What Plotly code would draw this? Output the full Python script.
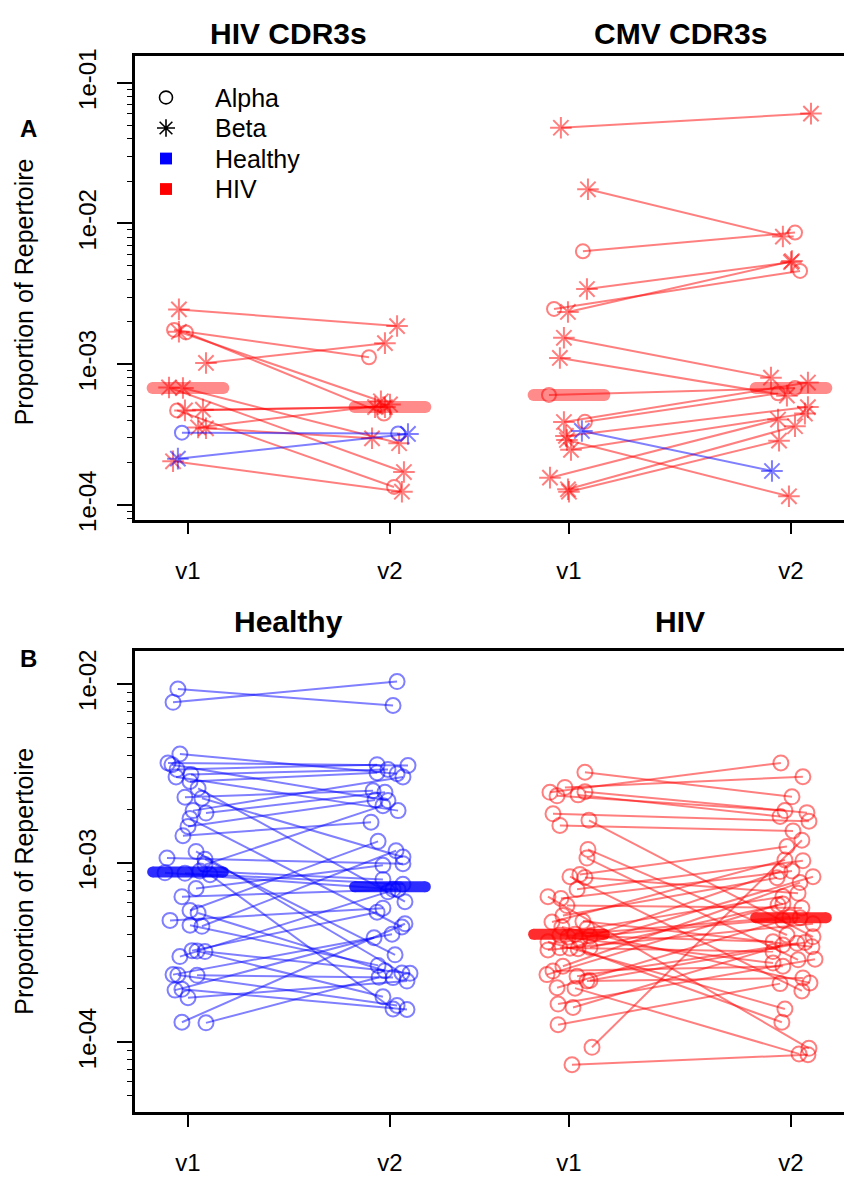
import numpy as np
import plotly.graph_objects as go

W, H = 844, 1180

# ---------------------------------------------------------------------------
# Shared x scale: time points of the two groups in each panel
# ---------------------------------------------------------------------------
XPOS = [1.0, 2.0, 2.886, 3.985]
XLABELS = ["v1", "v2", "v1", "v2"]

# ---------------------------------------------------------------------------
# Panel A - proportion of repertoire of HIV / CMV specific CDR3s
# chain: "a" = Alpha (circle), "b" = Beta (asterisk)
# ---------------------------------------------------------------------------
hiv_cdr3_hiv_v1 = [2.45e-3, 1.02e-3, 1.70e-3, 6.83e-4, 6.76e-4, 4.69e-4, 4.75e-4,
                   3.55e-4, 3.50e-4, 2.04e-4, 1.75e-3, 1.68e-3, 4.69e-4]
hiv_cdr3_hiv_v2 = [1.865e-3, 1.41e-3, 5.45e-4, 1.71e-4, 2.74e-4, 4.95e-4, 4.95e-4,
                   5.17e-4, 2.97e-4, 1.24e-4, 1.12e-3, 4.45e-4, 1.34e-4]
hiv_cdr3_hiv_chain = "bbbbbbbbbbaaa"
hiv_cdr3_hiv_jit1 = [-0.045, 0.089, -0.045, -0.094, -0.025, -0.015, 0.074,
                     0.050, 0.089, -0.074, -0.069, -0.010, -0.054]
hiv_cdr3_hiv_jit2 = [0.035, -0.025, -0.045, 0.069, 0.045, -0.074, -0.025,
                     0.000, -0.089, 0.059, -0.104, -0.030, 0.020]

hiv_cdr3_healthy_v1 = [3.26e-4, 2.13e-4]
hiv_cdr3_healthy_v2 = [3.22e-4, 3.19e-4]
hiv_cdr3_healthy_chain = "ab"
hiv_cdr3_healthy_jit1 = [-0.030, -0.050]
hiv_cdr3_healthy_jit2 = [0.040, 0.089]

cmv_cdr3_hiv_v1 = [4.79e-2, 1.75e-2, 6.34e-3, 3.42e-3, 2.47e-3, 2.35e-3, 1.54e-3,
                   1.107e-3, 6.04e-4, 3.89e-4, 3.88e-4, 3.09e-4, 2.89e-4, 2.46e-4,
                   1.56e-4, 1.29e-4, 1.24e-4]
cmv_cdr3_hiv_v2 = [6.04e-2, 8.07e-3, 8.61e-3, 5.31e-3, 4.60e-3, 5.40e-3, 8.02e-4,
                   5.97e-4, 6.76e-4, 6.20e-4, 7.40e-4, 4.95e-4, 1.15e-4, 4.45e-4,
                   4.04e-4, 3.62e-4, 2.86e-4]
cmv_cdr3_hiv_chain = "bbabab" + "bbaab" + "bbbbbb"
cmv_cdr3_hiv_jit1 = [-0.040, 0.094, 0.069, 0.089, -0.074, -0.005, -0.025, -0.045,
                     -0.099, 0.079, -0.025, -0.015, -0.010, 0.010, -0.094, -0.005, 0.000]
cmv_cdr3_hiv_jit2 = [0.099, -0.040, 0.020, 0.000, 0.045, 0.005, -0.099, -0.020,
                     0.020, -0.064, 0.084, 0.084, -0.010, 0.069, -0.064, 0.020, -0.059]

cmv_cdr3_healthy_v1 = [3.35e-4]
cmv_cdr3_healthy_v2 = [1.74e-4]
cmv_cdr3_healthy_chain = "b"
cmv_cdr3_healthy_jit1 = [0.064]
cmv_cdr3_healthy_jit2 = [-0.094]

# ---------------------------------------------------------------------------
# Panel B - proportion of repertoire, healthy donors vs HIV patients
# ---------------------------------------------------------------------------
healthy_v1 = [9.35e-3, 7.89e-3, 4.06e-3, 3.62e-3, 3.54e-3, 3.33e-3, 3.12e-3, 3.02e-3,
              2.85e-3, 2.61e-3, 2.33e-3, 2.30e-3, 1.96e-3, 1.90e-3, 1.77e-3, 1.60e-3,
              1.42e-3, 1.16e-3, 1.065e-3, 1.05e-3, 9.79e-4, 9.01e-4, 8.81e-4, 8.75e-4,
              8.60e-4, 7.20e-4, 6.48e-4, 5.43e-4, 5.26e-4, 4.78e-4, 4.49e-4, 4.43e-4,
              3.24e-4, 3.22e-4, 3.20e-4, 3.00e-4, 2.38e-4, 2.37e-4, 2.36e-4, 1.97e-4,
              1.95e-4, 1.77e-4, 1.29e-4, 1.28e-4]
healthy_v2 = [7.57e-3, 1.03e-2, 3.15e-3, 3.50e-3, 2.23e-3, 3.54e-3, 3.33e-3, 1.96e-3,
              3.19e-3, 6.08e-4, 2.53e-3, 1.08e-3, 3.02e-3, 2.48e-3, 4.39e-4, 2.25e-3,
              1.69e-3, 2.43e-4, 9.91e-4, 3.07e-4, 2.09e-3, 8.09e-4, 7.13e-4, 7.60e-4,
              1.53e-4, 9.70e-4, 7.10e-4, 1.32e-3, 2.50e-4, 5.59e-4, 2.68e-4, 1.17e-3,
              5.31e-4, 1.79e-4, 2.42e-4, 6.90e-4, 4.00e-4, 1.60e-4, 2.29e-4, 1.52e-4,
              3.82e-4, 2.19e-4, 4.58e-4, 2.30e-4]
healthy_jit1 = [-0.050, -0.074, -0.040, -0.099, -0.079, -0.054, 0.015, -0.059,
                0.010, 0.050, -0.015, 0.069, 0.025, 0.089, 0.010, 0.000,
                -0.025, 0.040, -0.104, 0.084, 0.084, 0.059, -0.114, -0.015,
                0.109, 0.040, -0.030, 0.010, 0.050, -0.089, 0.010, 0.069,
                0.020, 0.045, 0.084, -0.040, -0.074, -0.050, 0.045, -0.030,
                -0.064, 0.000, -0.030, 0.089]
healthy_jit2 = [0.015, 0.035, 0.035, 0.089, -0.010, -0.064, -0.010, 0.040,
                -0.064, 0.074, -0.084, 0.064, 0.064, -0.025, 0.059, -0.074,
                -0.094, 0.059, 0.064, 0.025, -0.035, -0.035, 0.015, 0.064,
                0.015, -0.035, 0.040, -0.059, -0.025, -0.035, -0.059, 0.030,
                -0.064, -0.035, 0.099, -0.010, 0.010, 0.035, 0.015, 0.084,
                -0.079, 0.084, 0.074, -0.054]

hiv_v1 = [3.21e-3, 2.64e-3, 2.50e-3, 2.48e-3, 2.40e-3, 2.37e-3, 1.88e-3, 1.73e-3,
          1.62e-3, 1.19e-3, 1.065e-3, 8.63e-4, 8.38e-4, 8.30e-4, 7.13e-4, 6.48e-4,
          6.34e-4, 5.78e-4, 5.09e-4, 4.72e-4, 4.68e-4, 4.39e-4, 4.30e-4, 4.00e-4,
          3.95e-4, 3.90e-4, 3.85e-4, 3.71e-4, 3.63e-4, 3.37e-4, 3.36e-4, 3.34e-4,
          3.32e-4, 3.27e-4, 2.65e-4, 2.49e-4, 2.38e-4, 2.33e-4, 2.21e-4, 2.19e-4,
          2.01e-4, 2.00e-4, 1.63e-4, 1.56e-4, 1.25e-4, 9.35e-5, 7.47e-5]
hiv_v2 = [2.34e-3, 3.03e-3, 1.91e-3, 3.62e-3, 1.82e-3, 1.96e-3, 1.71e-3, 3.87e-4,
          1.51e-3, 3.96e-4, 2.88e-4, 1.235e-3, 1.93e-4, 6.78e-4, 1.03e-3, 9.23e-5,
          9.01e-4, 5.61e-4, 8.27e-4, 3.41e-4, 1.04e-3, 2.14e-4, 6.50e-4, 5.00e-4,
          3.63e-4, 4.95e-4, 2.76e-4, 8.95e-4, 1.53e-4, 5.90e-4, 3.20e-4, 8.38e-4,
          1.29e-4, 4.58e-4, 7.77e-4, 2.65e-4, 5.83e-4, 3.56e-4, 3.60e-4, 2.28e-4,
          4.78e-4, 8.59e-5, 2.90e-4, 3.48e-4, 2.12e-4, 1.34e-3, 8.50e-5]
hiv_jit1 = [0.079, -0.020, 0.079, -0.094, 0.045, -0.059, -0.079, 0.099,
            -0.045, 0.094, 0.089, 0.054, 0.005, 0.079, 0.040, -0.104,
            -0.040, -0.010, -0.030, 0.069, -0.084, -0.035, 0.089, 0.030,
            -0.045, 0.104, -0.005, 0.054, -0.104, 0.104, -0.045, 0.005,
            0.045, -0.104, -0.030, -0.079, -0.109, 0.040, 0.104, 0.089,
            -0.059, 0.030, -0.054, 0.020, -0.054, 0.114, 0.015]
hiv_jit2 = [0.005, 0.059, 0.079, -0.050, -0.054, -0.030, 0.089, 0.109,
            0.010, -0.020, 0.035, -0.020, 0.054, 0.035, 0.059, 0.089,
            0.005, 0.054, -0.069, 0.104, -0.030, 0.094, -0.040, -0.005,
            -0.089, 0.045, -0.089, -0.054, -0.030, -0.040, -0.089, 0.109,
            -0.045, 0.109, 0.045, -0.040, -0.064, 0.030, 0.069, 0.059,
            -0.040, 0.040, 0.119, -0.040, -0.054, 0.054, 0.084]

RED = "rgba(255,0,0,0.5)"
BLUE = "rgba(0,0,255,0.5)"
FONT = "Liberation Sans, Arial, Helvetica, sans-serif"

fig = go.Figure()


def add_pairs(v1, v2, jit1, jit2, chains, x1, x2, color, xa, ya, circle_size=14):
    """One connecting segment per clonotype, with its two time-point markers."""
    for a, b, d1, d2, ch in zip(v1, v2, jit1, jit2, chains):
        if ch == "a":
            sym, size = "circle-open", circle_size
        else:
            sym, size = "asterisk-open", 18
        fig.add_trace(go.Scatter(
            x=[x1 + d1, x2 + d2], y=[a, b], mode="lines+markers",
            line=dict(color=color, width=2),
            marker=dict(symbol=sym, size=size, color=color,
                        line=dict(width=2, color=color)),
            xaxis=xa, yaxis=ya, hoverinfo="skip", showlegend=False))


def add_median(values, xc, rgb, opacity, width, xa, ya, half=0.175):
    """Thick rounded bar at the group median."""
    m = float(np.median(values))
    fig.add_trace(go.Scatter(
        x=[xc - half, xc + half], y=[m, m], mode="lines+markers",
        line=dict(color=rgb, width=width),
        marker=dict(symbol="circle", size=width, color=rgb, line=dict(width=0)),
        opacity=opacity, xaxis=xa, yaxis=ya, hoverinfo="skip", showlegend=False))


# Panel A traces
add_pairs(hiv_cdr3_hiv_v1, hiv_cdr3_hiv_v2, hiv_cdr3_hiv_jit1, hiv_cdr3_hiv_jit2,
          hiv_cdr3_hiv_chain, XPOS[0], XPOS[1], RED, "x", "y")
add_pairs(hiv_cdr3_healthy_v1, hiv_cdr3_healthy_v2, hiv_cdr3_healthy_jit1,
          hiv_cdr3_healthy_jit2, hiv_cdr3_healthy_chain, XPOS[0], XPOS[1], BLUE, "x", "y")
add_pairs(cmv_cdr3_hiv_v1, cmv_cdr3_hiv_v2, cmv_cdr3_hiv_jit1, cmv_cdr3_hiv_jit2,
          cmv_cdr3_hiv_chain, XPOS[2], XPOS[3], RED, "x", "y")
add_pairs(cmv_cdr3_healthy_v1, cmv_cdr3_healthy_v2, cmv_cdr3_healthy_jit1,
          cmv_cdr3_healthy_jit2, cmv_cdr3_healthy_chain, XPOS[2], XPOS[3], BLUE, "x", "y")
add_median(hiv_cdr3_hiv_v1, XPOS[0], "rgb(255,0,0)", 0.45, 12, "x", "y")
add_median(hiv_cdr3_hiv_v2, XPOS[1], "rgb(255,0,0)", 0.45, 12, "x", "y")
add_median(cmv_cdr3_hiv_v1, XPOS[2], "rgb(255,0,0)", 0.45, 12, "x", "y")
add_median(cmv_cdr3_hiv_v2, XPOS[3], "rgb(255,0,0)", 0.45, 12, "x", "y")

# Panel B traces
add_pairs(healthy_v1, healthy_v2, healthy_jit1, healthy_jit2, "a" * len(healthy_v1),
          XPOS[0], XPOS[1], BLUE, "x2", "y2", circle_size=15)
add_pairs(hiv_v1, hiv_v2, hiv_jit1, hiv_jit2, "a" * len(hiv_v1),
          XPOS[2], XPOS[3], RED, "x2", "y2", circle_size=15)
add_median(healthy_v1, XPOS[0], "rgb(0,0,255)", 0.82, 11, "x2", "y2")
add_median(healthy_v2, XPOS[1], "rgb(0,0,255)", 0.82, 11, "x2", "y2")
add_median(hiv_v1, XPOS[2], "rgb(255,0,0)", 0.82, 11, "x2", "y2")
add_median(hiv_v2, XPOS[3], "rgb(255,0,0)", 0.82, 11, "x2", "y2")


# ---------------------------------------------------------------------------
# Axes
# ---------------------------------------------------------------------------
def px(x):
    return x / W


def py(y):
    return 1 - y / H


X_RANGE = [1 + (135 - 188) / 202, 1 + (844 - 188) / 202]
MINOR_VALS = [k * 10.0 ** e for e in range(-6, 0) for k in range(2, 10)]


def xaxis_cfg(anchor):
    return dict(domain=[px(135), 1.0], range=X_RANGE, tickmode="array",
                tickvals=XPOS, ticktext=XLABELS, ticks="outside", ticklen=12,
                tickwidth=1.5, tickcolor="black", showline=True, linewidth=2.5,
                linecolor="black", mirror=True, showgrid=False, zeroline=False,
                ticklabelstandoff=16, tickfont=dict(size=24), anchor=anchor)


def yaxis_cfg(anchor, dom, rng, vals, texts):
    return dict(domain=dom, type="log", range=rng, tickmode="array",
                tickvals=vals, ticktext=texts, tickangle=-90, ticks="outside",
                ticklen=15, tickwidth=1.5, tickcolor="black",
                minor=dict(tickmode="array", tickvals=MINOR_VALS, ticks="outside",
                           ticklen=5, tickwidth=1.2, tickcolor="black", showgrid=False),
                showline=True, linewidth=2.5, linecolor="black", mirror=False,
                showgrid=False, zeroline=False, ticklabelstandoff=12,
                tickfont=dict(size=24), anchor=anchor)


fig.update_layout(
    width=W, height=H, margin=dict(l=0, r=0, t=0, b=0),
    paper_bgcolor="white", plot_bgcolor="white", showlegend=False,
    font=dict(family=FONT, size=24, color="black"),
    xaxis=xaxis_cfg("y"),
    yaxis=yaxis_cfg("x", [py(521), py(50)], [-4.105, -0.811],
                    [1e-1, 1e-2, 1e-3, 1e-4], ["1e-01", "1e-02", "1e-03", "1e-04"]),
    xaxis2=xaxis_cfg("y2"),
    yaxis2=yaxis_cfg("x2", [py(1123), py(655)], [-4.390, -1.819],
                     [1e-2, 1e-3, 1e-4], ["1e-02", "1e-03", "1e-04"]),
)

# ---------------------------------------------------------------------------
# Titles, panel letters, axis titles
# ---------------------------------------------------------------------------
ann = []


def text(x, y, s, size=24, bold=False, angle=0, xanchor="center"):
    ann.append(dict(x=px(x), y=py(y), xref="paper", yref="paper",
                    text=f"<b>{s}</b>" if bold else s, showarrow=False,
                    font=dict(family=FONT, size=size, color="black"),
                    textangle=angle, xanchor=xanchor, yanchor="middle"))


text(288, 27, "HIV CDR3s", size=30, bold=True)
text(680, 27, "CMV CDR3s", size=30, bold=True)
text(288, 625, "Healthy", size=30, bold=True)
text(680, 625, "HIV", size=30, bold=True)
text(28, 123, "A", size=24, bold=True)
text(28, 662, "B", size=24, bold=True)
text(24, 290, "Proportion of Repertoire", size=25, angle=-90)
text(24, 889, "Proportion of Repertoire", size=25, angle=-90)

# legend
legend_rows = [(92, "Alpha"), (123, "Beta"), (154, "Healthy"), (185, "HIV")]
for y, s in legend_rows:
    text(213, y, s, size=25, xanchor="left")

shapes = []
# open circle key
cx, cy, r = 166, 92, 6.5
shapes.append(dict(type="circle", xref="paper", yref="paper",
                   x0=px(cx - r), x1=px(cx + r), y0=py(cy + r), y1=py(cy - r),
                   line=dict(color="black", width=1.6)))
# asterisk key
cx, cy, a = 166, 123, 9
d = a * 0.7071
path = (f"M{px(cx - a)},{py(cy)} L{px(cx + a)},{py(cy)} "
        f"M{px(cx)},{py(cy - a)} L{px(cx)},{py(cy + a)} "
        f"M{px(cx - d)},{py(cy - d)} L{px(cx + d)},{py(cy + d)} "
        f"M{px(cx - d)},{py(cy + d)} L{px(cx + d)},{py(cy - d)}")
shapes.append(dict(type="path", xref="paper", yref="paper", path=path,
                   line=dict(color="black", width=1.6)))
# group colour keys
for cy, col in [(154, "rgb(0,0,255)"), (185, "rgb(255,0,0)")]:
    shapes.append(dict(type="rect", xref="paper", yref="paper",
                       x0=px(160), x1=px(172), y0=py(cy + 6), y1=py(cy - 6),
                       fillcolor=col, line=dict(width=0)))

fig.update_layout(annotations=ann, shapes=shapes)

fig.write_html("out.html")
